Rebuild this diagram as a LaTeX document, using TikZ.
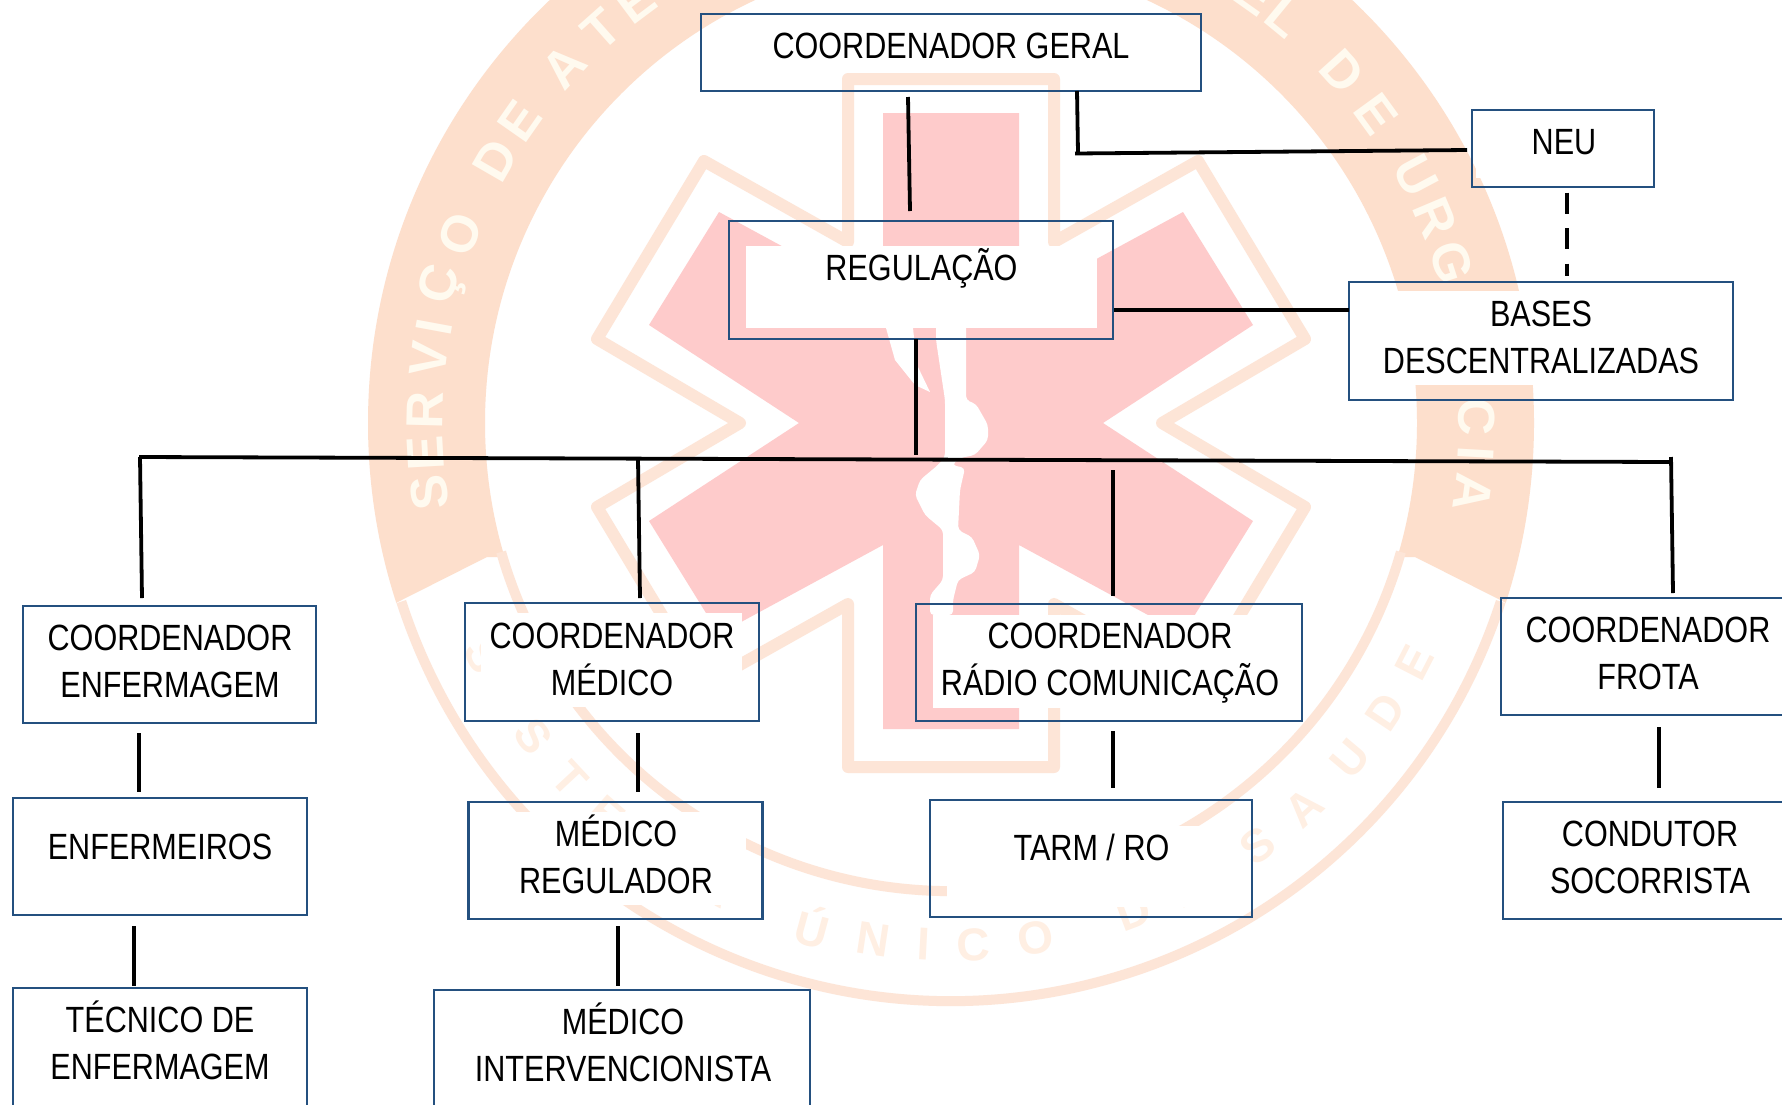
\documentclass[tikz,border=0pt]{standalone}
\usepackage{fontspec}
\newfontfamily\narfont[FakeStretch=0.838]{Liberation Sans}
\newfontfamily\wmfont[BoldFont={Liberation Sans Bold}]{Liberation Sans}
\definecolor{band}{HTML}{FDDFCC}
\definecolor{bandtext}{HTML}{FFFAEF}
\definecolor{lowtext}{HTML}{FFEFE3}
\definecolor{rimline}{HTML}{FDE5D7}
\definecolor{starpink}{HTML}{FECBCB}
\definecolor{boxblue}{HTML}{24507F}
\tikzset{
  orgbox/.style={draw=boxblue,line width=2.8pt,fill=none,inner sep=0pt,outer sep=0pt,anchor=north west},
  lbl/.style={font=\narfont\fontsize{36.5}{47}\selectfont,align=center,inner sep=0pt,anchor=base,text=black},
  link/.style={draw=black,line width=3.8pt},
  wmtop/.style={font=\wmfont\bfseries\fontsize{52}{52}\selectfont,text=bandtext,inner sep=0pt},
  wmlow/.style={font=\wmfont\bfseries\fontsize{46}{46}\selectfont,text=lowtext,inner sep=0pt},
  rim/.style={draw=rimline,line width=10pt},
  starline/.style={draw=rimline,line width=12pt,fill=white,line join=round},
  shade/.style={fill=white,draw=none}
}
\begin{document}
\begin{tikzpicture}[x=1pt,y=-1pt]
\useasboundingbox (0,0) rectangle (1782,1104);
\clip (0,0) rectangle (1782,1104);
\fill[white] (0,0) rectangle (1782,1104);
% ---- watermark
\begin{scope}[shift={(951,423)}]
  \begin{scope}
    \clip (-700pt,600pt) -- (700pt,600pt) -- (700pt,-253pt) -- (464pt,-134pt) -- (-464pt,-134pt) -- (-700pt,-253pt) -- cycle;
    \fill[band,even odd rule] (0pt,0pt) circle[radius=583pt] (0pt,0pt) circle[radius=466pt];
  \end{scope}
  \draw[rim] (198:578pt) arc[start angle=198,end angle=342,radius=578pt];
  \draw[rim] (196:468pt) arc[start angle=196,end angle=344,radius=468pt];
  \foreach \a/\l [count=\i] in {187.6/S,183.3/E,178.6/R,173/V,169.5/I,164.8/Ç,159/O,150/D,145/E,137.4/A,131.6/T,126.8/E,120/N,114.5/D,110/I,104.5/M,99/E,93.5/N,88/T,82.5/O,74/M,68/Ó,62.5/V,54.7/E,50.6/L,42/D,36/E,28/U,22.9/R,17.8/G,12/Ê,6/N,0.7/C,-3.3/I,-7.6/A}
    \node[wmtop,rotate=\a-90] (wt\i) at (\a:526pt) {\l};
  \foreach \a/\l [count=\i] in {206.5/S,211.5/I,216.9/S,223/T,228.7/E,236/M,243/A,254.7/Ú,261.4/N,267/I,272.5/C,279.3/O,290.5/D,297/E,306/S,312.5/A,319.9/U,326.4/D,332.7/E}
    \node[wmlow,rotate=\a+90] (wb\i) at (\a:522pt) {\l};
  % star outline
  \draw[starline] (-103pt,344pt) -- (103pt,344pt) -- (103pt,181pt) -- (247pt,262pt) -- (354pt,84pt) -- (211pt,0pt) -- (354pt,-84pt) -- (247pt,-262pt) -- (103pt,-181pt) -- (103pt,-344pt) -- (-103pt,-344pt) -- (-103pt,-181pt) -- (-247pt,-262pt) -- (-354pt,-84pt) -- (-211pt,0pt) -- (-354pt,84pt) -- (-247pt,262pt) -- (-103pt,181pt) -- cycle;
  % star fill
  \fill[starpink] (-68pt,310pt) -- (68pt,310pt) -- (68pt,122pt) -- (232pt,211pt) -- (302pt,98pt) -- (152pt,0pt) -- (302pt,-98pt) -- (232pt,-211pt) -- (68pt,-122pt) -- (68pt,-306pt) -- (-68pt,-306pt) -- (-68pt,-122pt) -- (-232pt,-211pt) -- (-302pt,-98pt) -- (-152pt,0pt) -- (-302pt,98pt) -- (-232pt,211pt) -- (-68pt,122pt) -- cycle;
\end{scope}
% rod and serpent
\fill[white,line join=round] (886,328) -- (913,328) -- (917,365) -- (930,392) -- (915,385) -- (895,360) -- cycle;
\fill[white,rounded corners=4pt] (936,246) -- (966,246) -- (966,400) -- (976,404) -- (988,425) -- (988,440) -- (975,455) -- (960,458) -- (952,465) -- (965,468) -- (960,490) -- (958,530) -- (972,537) -- (980,555) -- (975,572) -- (958,580) -- (953,600) -- (953,615) -- (930,615) -- (930,595) -- (943,580) -- (943,530) -- (925,515) -- (915,495) -- (920,480) -- (938,465) -- (945,457) -- (945,400) -- (936,340) -- cycle;
% paragraph shading inside the boxes
\fill[shade] (718,24) rectangle (1185,71);
\fill[shade] (746,246) rectangle (1097,328);
\fill[shade] (1476,119) rectangle (1640,178);
\fill[shade] (1366,291) rectangle (1716,385);
\fill[shade] (481,613) rectangle (742,707);
\fill[shade] (933,615) rectangle (1286,708);
\fill[shade] (1518,609) rectangle (1782,702);
\fill[shade] (485,812) rectangle (746,905);
\fill[shade] (947,826) rectangle (1236,907);
\fill[shade] (451,1001) rectangle (794,1093);
% ---- boxes
\node[orgbox,minimum width=500pt,minimum height=77pt] (geral) at (701,14) {};
\node[orgbox,minimum width=384pt,minimum height=118pt] (regulacao) at (729,221) {};
\node[orgbox,minimum width=182pt,minimum height=77pt] (neu) at (1472,110) {};
\node[orgbox,minimum width=384pt,minimum height=118pt] (bases) at (1349,282) {};
\node[orgbox,minimum width=293pt,minimum height=117pt] (cenf) at (23,606) {};
\node[orgbox,minimum width=294pt,minimum height=118pt] (cmed) at (465,603) {};
\node[orgbox,minimum width=386pt,minimum height=117pt] (crad) at (916,604) {};
\node[orgbox,minimum width=300pt,minimum height=117pt] (cfro) at (1501,598) {};
\node[orgbox,minimum width=294pt,minimum height=117pt] (enf) at (13,798) {};
\node[orgbox,minimum width=294pt,minimum height=117pt] (mreg) at (468.5,802) {};
\node[orgbox,minimum width=322pt,minimum height=117pt] (tarm) at (930,800) {};
\node[orgbox,minimum width=300pt,minimum height=117pt] (cond) at (1503,802) {};
\node[orgbox,minimum width=294pt,minimum height=130pt] (tec) at (13,988) {};
\node[orgbox,minimum width=376pt,minimum height=130pt] (mint) at (434,990) {};
% ---- texts
\node[lbl] (tgeral) at (951,58.5) {COORDENADOR GERAL};
\node[lbl] (treg) at (921.5,280.5) {REGULAÇÃO};
\node[lbl] (tneu) at (1564,154) {NEU};
\node[lbl] (tbases) at (1541,373) {BASES\\DESCENTRALIZADAS};
\node[lbl] (tcenf) at (170,697) {COORDENADOR\\ENFERMAGEM};
\node[lbl] (tcmed) at (612,695) {COORDENADOR\\MÉDICO};
\node[lbl] (tcrad) at (1110,695.5) {COORDENADOR\\RÁDIO COMUNICAÇÃO};
\node[lbl] (tcfro) at (1648,689) {COORDENADOR\\FROTA};
\node[lbl] (tenf) at (160,859) {ENFERMEIROS};
\node[lbl] (tmreg) at (616,893) {MÉDICO\\REGULADOR};
\node[lbl] (ttarm) at (1091.5,860) {TARM / RO};
\node[lbl] (tcond) at (1650,893) {CONDUTOR\\SOCORRISTA};
\node[lbl] (ttec) at (160,1079.5) {TÉCNICO DE\\ENFERMAGEM};
\node[lbl] (tmint) at (623,1081) {MÉDICO\\INTERVENCIONISTA};
% ---- connector ends
\coordinate (a1) at (908,97);   \coordinate (a2) at (910,211);
\coordinate (b1) at (1077,91);  \coordinate (b2) at (1078,153);
\coordinate (b3) at (1075,153.5); \coordinate (b4) at (1467,150);
\coordinate (c1) at (1567,192.5); \coordinate (c2) at (1567,276);
\coordinate (d1) at (1114,310); \coordinate (d2) at (1349,310);
\coordinate (e1) at (916,339);  \coordinate (e2) at (916,455);
\coordinate (h1) at (139,457);  \coordinate (h2) at (1672,462);
\coordinate (f1) at (140,457);  \coordinate (f2) at (142,598);
\coordinate (f3) at (638,459);  \coordinate (f4) at (640,598);
\coordinate (f5) at (1113,470); \coordinate (f6) at (1113,596);
\coordinate (f7) at (1671,457); \coordinate (f8) at (1673,593);
\coordinate (g1) at (139,733);  \coordinate (g2) at (139,792);
\coordinate (g3) at (134,926);  \coordinate (g4) at (134,986);
\coordinate (g5) at (638,733);  \coordinate (g6) at (638,792);
\coordinate (g7) at (618,926);  \coordinate (g8) at (618,986);
\coordinate (g9) at (1113,731); \coordinate (g10) at (1113,788);
\coordinate (g11) at (1659,727);\coordinate (g12) at (1659,788);
\draw[link] (a1) -- (a2);
\draw[link] (b1) -- (b2);
\draw[link] (b3) -- (b4);
\draw[link,line width=4pt,dash pattern=on 21pt off 14.5pt] (c1) -- (c2);
\draw[link] (d1) -- (d2);
\draw[link] (e1) -- (e2);
\draw[link] (h1) -- (h2);
\draw[link] (f1) -- (f2);
\draw[link] (f3) -- (f4);
\draw[link] (f5) -- (f6);
\draw[link] (f7) -- (f8);
\draw[link] (g1) -- (g2);
\draw[link] (g3) -- (g4);
\draw[link] (g5) -- (g6);
\draw[link] (g7) -- (g8);
\draw[link] (g9) -- (g10);
\draw[link] (g11) -- (g12);
\end{tikzpicture}
\end{document}
